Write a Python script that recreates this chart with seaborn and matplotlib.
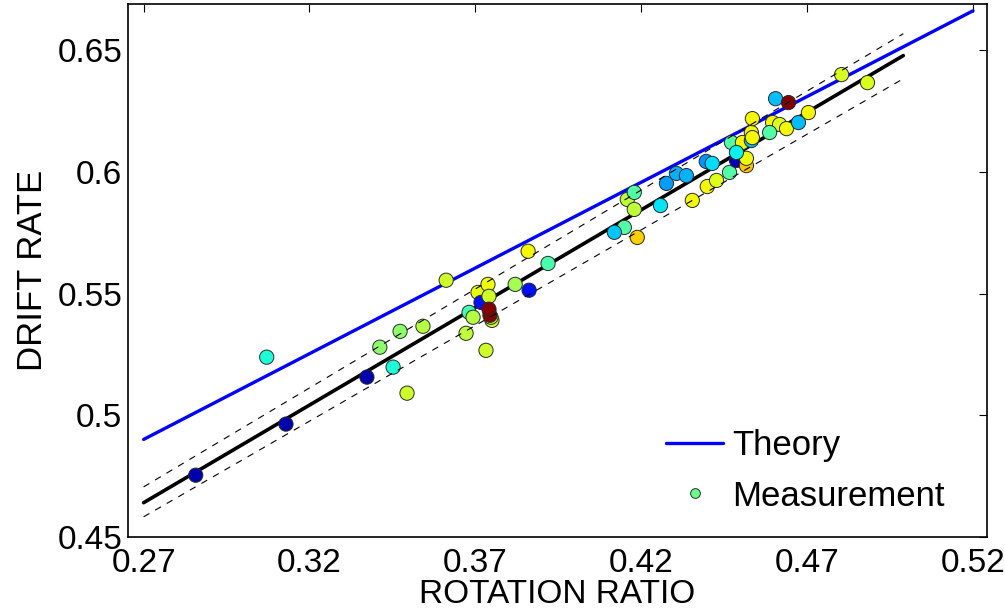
import matplotlib
matplotlib.use("Agg")
import matplotlib.pyplot as plt
import seaborn as sns
import pandas as pd
from matplotlib.lines import Line2D

# ---- data ----
rotation_ratio = [
    0.2857, 0.3129, 0.3071, 0.3373, 0.3412, 0.3452, 0.3473, 0.3494, 0.3542, 0.3612,
    0.3672, 0.3681, 0.3693, 0.3708, 0.3738, 0.3717, 0.3741, 0.3750, 0.3747, 0.3732,
    0.3820, 0.3862, 0.3859, 0.3919, 0.4149, 0.4119, 0.4188, 0.4158, 0.4179, 0.4179,
    0.4258, 0.4276, 0.4306, 0.4336, 0.4354, 0.4399, 0.4427, 0.4466, 0.4396, 0.4414,
    0.4487, 0.4517, 0.4517, 0.4472, 0.4505, 0.4532, 0.4487, 0.4532, 0.4605, 0.4704,
    0.4535, 0.4596, 0.4617, 0.4638, 0.4674, 0.4587, 0.4535, 0.4804, 0.4882,
    0.3744, 0.3741, 0.4644,
]
drift_rate = [
    0.4754, 0.4964, 0.5239, 0.5157, 0.5280, 0.5198, 0.5345, 0.5091, 0.5366, 0.5555,
    0.5337, 0.5423, 0.5403, 0.5505, 0.5538, 0.5464, 0.5489, 0.5390, 0.5403, 0.5267,
    0.5538, 0.5514, 0.5674, 0.5624, 0.5772, 0.5752, 0.5731, 0.5887, 0.5916, 0.5846,
    0.5862, 0.5953, 0.5994, 0.5985, 0.5883, 0.5940, 0.5965, 0.5998, 0.6043, 0.6035,
    0.6047, 0.6026, 0.6056, 0.6121, 0.6121, 0.6129, 0.6080, 0.6162, 0.6301, 0.6244,
    0.6219, 0.6203, 0.6195, 0.6178, 0.6203, 0.6162, 0.6141, 0.6400, 0.6367,
    0.5411, 0.5436, 0.6285,
]
# colour value of each measurement on the jet scale (0..1)
colour_value = [
    0.04, 0.04, 0.39, 0.04, 0.52, 0.39, 0.52, 0.60, 0.57, 0.60,
    0.58, 0.43, 0.57, 0.63, 0.64, 0.14, 0.60, 0.60, 0.58, 0.60,
    0.55, 0.14, 0.645, 0.44, 0.45, 0.32, 0.69, 0.58, 0.45, 0.58,
    0.35, 0.28, 0.30, 0.30, 0.645, 0.645, 0.62, 0.45, 0.27, 0.34,
    0.05, 0.70, 0.64, 0.45, 0.645, 0.31, 0.36, 0.645, 0.31, 0.645,
    0.645, 0.645, 0.62, 0.645, 0.31, 0.45, 0.645, 0.61, 0.61,
    1.00, 1.00, 1.00,
]

theory_x = [0.27, 0.52]
theory_y = [0.4901, 0.6662]
fit_x = [0.27, 0.499]
fit_y = [0.4641, 0.6478]
band_upper_y = [0.4706, 0.6568]
band_lower_y = [0.4583, 0.6383]

x_ticks = [0.27, 0.32, 0.37, 0.42, 0.47, 0.52]
x_tick_labels = ["0.27", "0.32", "0.37", "0.42", "0.47", "0.52"]
y_ticks = [0.45, 0.5, 0.55, 0.6, 0.65]
y_tick_labels = ["0.45", "0.5", "0.55", "0.6", "0.65"]

# ---- plot ----
sns.set_theme(style="white")
plt.rcParams["font.family"] = ["Liberation Sans", "DejaVu Sans"]
plt.rcParams["text.color"] = "black"
plt.rcParams["axes.labelcolor"] = "black"
plt.rcParams["xtick.color"] = "black"
plt.rcParams["ytick.color"] = "black"

jet = plt.get_cmap("jet")
fig = plt.figure(figsize=(10.05, 6.15), dpi=100)
ax = fig.add_axes([0.1274, 0.1268, 0.982 - 0.1274, 0.9935 - 0.1268])

df = pd.DataFrame({"x": rotation_ratio, "y": drift_rate, "c": colour_value})

sns.lineplot(x=theory_x, y=theory_y, color="#0000FF", linewidth=2.4, ax=ax, zorder=2)
sns.lineplot(x=fit_x, y=fit_y, color="black", linewidth=2.6, ax=ax, zorder=2)
sns.scatterplot(data=df, x="x", y="y", hue="c", palette=jet, hue_norm=(0, 1),
                s=105, edgecolor="#2a2a2a", linewidth=0.7, legend=False, ax=ax, zorder=3)
for by in (band_upper_y, band_lower_y):
    sns.lineplot(x=fit_x, y=by, color="black", linewidth=0.8, ax=ax, zorder=4,
                 linestyle=(0, (6, 6)))

ax.set_xlim(0.2653, 0.5242)
ax.set_ylim(0.45, 0.669)
ax.set_xticks(x_ticks)
ax.set_xticklabels(x_tick_labels)
ax.set_yticks(y_ticks)
ax.set_yticklabels(y_tick_labels)
ax.tick_params(direction="in", length=6, width=0.8, top=True, right=True,
               labelsize=24, colors="black")
ax.tick_params(axis="x", pad=8)
ax.tick_params(axis="y", pad=4)
for sp in ax.spines.values():
    sp.set_visible(True)
    sp.set_color("black")
    sp.set_linewidth(1.2)

ax.set_xlabel("ROTATION RATIO", fontsize=24, labelpad=0, color="black")
ax.set_ylabel("DRIFT RATE", fontsize=25, labelpad=6, color="black")

handles = [
    Line2D([0], [0], color="#0000FF", linewidth=2.4),
    Line2D([0], [0], linestyle="none", marker="o", markersize=7,
           markerfacecolor=jet(0.48), markeredgecolor="#2a2a2a",
           markeredgewidth=0.7),
]
leg = ax.legend(handles, ["Theory", "Measurement"], loc="upper left",
                bbox_to_anchor=(0.6627, 0.302), bbox_transform=fig.transFigure,
                frameon=False, fontsize=25, handlelength=1.65, handletextpad=0.25,
                labelspacing=0.5, borderpad=0, borderaxespad=0)
for t in leg.get_texts():
    t.set_color("black")

fig.savefig("out.png", dpi=100)
